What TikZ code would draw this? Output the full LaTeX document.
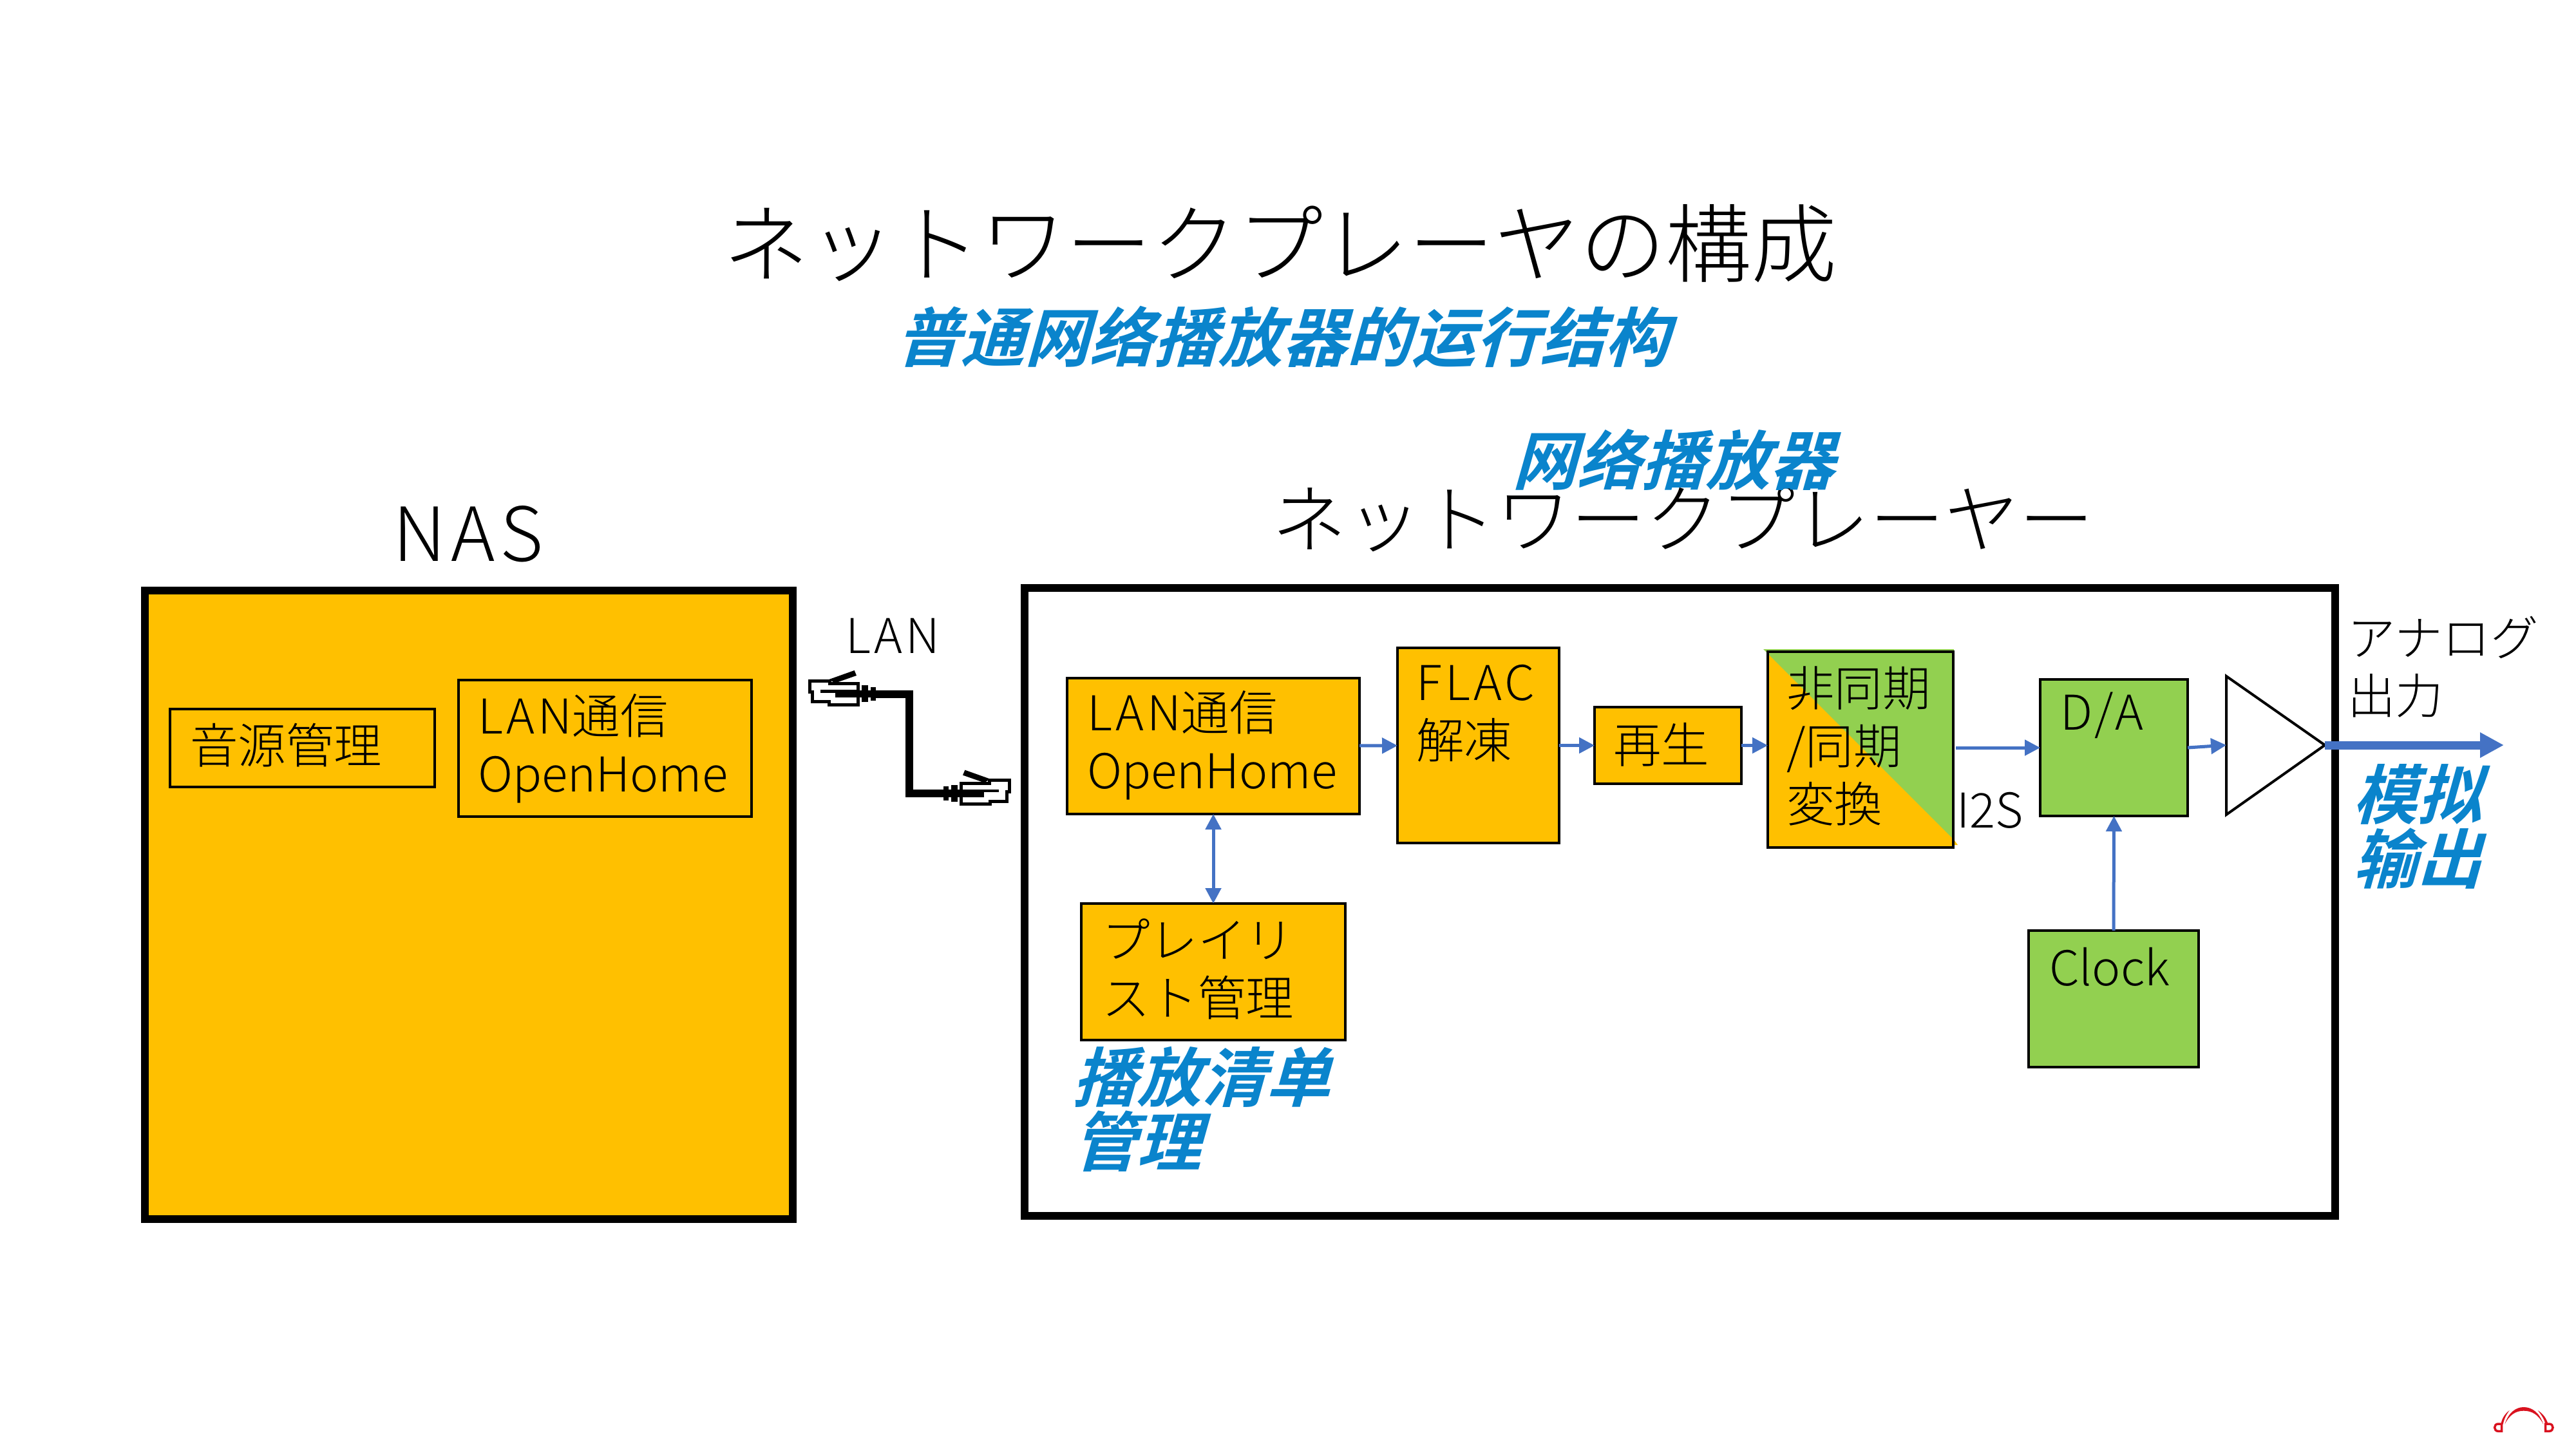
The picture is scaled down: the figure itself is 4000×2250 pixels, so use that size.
\documentclass[tikz,border=0pt]{standalone}
\usepackage{fontspec}
\usetikzlibrary{arrows.meta}
\newfontfamily\jpf{Noto Sans CJK JP Light}
\newfontfamily\jpw[LetterSpace=7]{Noto Sans CJK JP Light}
\newfontfamily\cnf[FakeSlant=0.28]{Noto Sans CJK SC Bold}
\definecolor{orangeF}{HTML}{FFC000}
\definecolor{greenF}{HTML}{92D050}
\definecolor{arrowB}{HTML}{4472C4}
\definecolor{noteB}{HTML}{0A84CC}
\definecolor{logoR}{HTML}{D9121F}
\newcommand{\plugbody}{%
  \fill[black] (415,493) rectangle (443,570);
  \fill[black] (455,500) rectangle (480,565);
  \fill[black] (395,515) rectangle (480,550);
  \draw[black,line width=5pt,fill=white,miter limit=2]
    (172,472)--(265,472)--(265,485)--(398,485)--(398,583)--(262,583)--(262,570)--(185,570)--(185,525)--(172,525)--cycle;
  \fill[black] (222,513) rectangle (400,527);
  \fill[black] (290,520) rectangle (400,550);
  \fill[black] (262,465)--(380,423)--(390,447)--(290,482)--cycle;
}
\tikzset{
  x=1pt,y=-1pt,
  boxn/.style={draw=black,line width=4.5pt,anchor=north west,inner sep=0pt,outer sep=0pt},
  heavy/.style={draw=black,line width=12.5pt,anchor=north west,inner sep=0pt,outer sep=0pt},
  lbl/.style={anchor=west,inner sep=0pt,align=left,text=black,font=\jpf\fontsize{74.5}{90}\selectfont},
  big/.style={inner sep=0pt,text=black,font=\jpf\fontsize{116}{130}\selectfont},
  note/.style={inner sep=0pt,align=left,text=noteB,font=\cnf\fontsize{100}{100}\selectfont},
  flow/.style={draw=arrowB,line width=5pt,-{Triangle[length=24pt,width=24pt]}},
}
\begin{document}
\begin{tikzpicture}
\useasboundingbox (0,0) rectangle (4000,2250);
% outer boxes
\node[heavy,fill=orangeF,minimum width=1006pt,minimum height=976pt] (nas) at (225,917) {};
\node[heavy,fill=white,minimum width=2035pt,minimum height=975pt] (player) at (1591,913) {};
% inner boxes
\node[boxn,minimum width=411pt,minimum height=121pt] (src) at (264,1101) {};
\node[boxn,minimum width=455pt,minimum height=212pt] (lanA) at (712,1056) {};
\node[boxn,fill=orangeF,minimum width=454pt,minimum height=211pt] (lanB) at (1657,1053) {};
\node[boxn,fill=orangeF,minimum width=251pt,minimum height=303pt] (flac) at (2170,1006) {};
\node[boxn,fill=orangeF,minimum width=228pt,minimum height=119pt] (play) at (2476,1098) {};
\node[boxn,fill=orangeF,minimum width=288pt,minimum height=304pt] (sync) at (2745,1012) {};
\fill[greenF] (2738,1008)--(3034,1008)--(3034,1304)--cycle;
\fill[orangeF] (3031,1300)--(3031,1312)--(3040,1312)--cycle;
\node[boxn,minimum width=288pt,minimum height=304pt] at (2745,1012) {};
\node[boxn,fill=greenF,minimum width=229pt,minimum height=212pt] (da) at (3168,1055) {};
\node[boxn,fill=greenF,minimum width=264pt,minimum height=212pt] (clock) at (3150,1445) {};
\node[boxn,fill=orangeF,minimum width=410pt,minimum height=212pt] (pl) at (1679,1403) {};
% amplifier
\coordinate (triW) at (3457,1157);
\coordinate (triE) at (3610,1157);
\coordinate (outE) at (3888,1157);
\draw[black,line width=4pt,fill=white,line join=miter] (3457,1050)--(triE)--(3457,1265)--cycle;
% connectors
\draw[flow] (lanB) -- (flac);
\draw[flow] (flac) -- (play);
\draw[flow] (play) -- (sync.west |- play);
\draw[flow,shorten <=4pt] (sync.east |- da.west) -- (da.west);
\draw[flow] (da.east) -- (triW);
\draw[flow] (clock.north) -- (da.south);
\draw[draw=arrowB,line width=5pt,{Triangle[length=24pt,width=24pt]}-{Triangle[length=24pt,width=24pt]}] (lanB.south) -- (pl.north);
\draw[draw=arrowB,line width=13pt,-{Triangle[length=37pt,width=37pt]}] (triE) -- (outE);
% cable
\coordinate (cabA) at (1360,1078);
\coordinate (cabB) at (1465,1232);
\draw[black,line width=12pt] (cabA) -- (1412,1078) -- (1412,1232) -- (cabB);
\begin{scope}[shift={(1200,900)},xscale=0.3333,yscale=0.3333]\plugbody\end{scope}
\begin{scope}[shift={(1625,1054.67)},xscale=-0.3333,yscale=0.3333]\plugbody\end{scope}
% labels
\node[lbl] (t1) at (295,1157) {音源管理};
\node[lbl] (t2) at (742,1162) {{\jpw LAN}通信\\OpenHome};
\node[lbl] (t3) at (1688,1157) {{\jpw LAN}通信\\OpenHome};
\node[lbl] (t4) at (2199,1108) {{\jpw FLAC}\\解凍};
\node[lbl] (t5) at (2505,1156) {再生};
\node[lbl] (t6) at (2774,1159) {非同期\\/同期\\変換};
\node[lbl] (t7) at (3199,1111) {{\jpw D/A}};
\node[lbl] (t8) at (3038,1258) {I2S};
\node[lbl] (t9) at (3182,1501) {Clock};
\node[lbl] (t10) at (1711,1505) {プレイリ\\スト管理};
\node[lbl] (t11) at (1313,987) {{\jpw LAN}};
\node[lbl] (t12) at (3645,1036) {アナログ\\出力};
\node[big,font=\jpw\fontsize{116}{130}\selectfont] (t13) at (727,829) {NAS};
\node[big,anchor=west] (t14) at (1975,806) {ネットワークプレーヤー};
\node[big,font=\jpf\fontsize{133}{140}\selectfont] (t15) at (1988,378) {ネットワークプレーヤの構成};
\node[note] (n1) at (1991,523) {普通网络播放器的运行结构};
\node[note] (n2) at (2598,714) {网络播放器};
\node[note,anchor=west] (n3) at (1665,1722) {播放清单\\管理};
\node[note,anchor=west] (n4) at (3653,1283) {模拟\\输出};
% logo
\begin{scope}[shift={(3800,2150)},xscale=0.3333,yscale=0.3333,logoR]
\fill (268,185) .. controls (285,130) and (320,105) .. (356,105) .. controls (395,105) and (430,130) .. (448,185) .. controls (425,140) and (395,122) .. (356,122) .. controls (320,122) and (290,140) .. (268,185) --cycle;
\fill (250,185) .. controls (255,155) and (270,135) .. (290,120) .. controls (275,140) and (265,160) .. (260,185) --cycle;
\fill (470,185) .. controls (462,155) and (445,135) .. (422,120) .. controls (438,140) and (452,160) .. (458,185) --cycle;
\draw[line width=3.5pt] (254,183) -- (238,183) .. controls (215,183) and (215,217) .. (238,217) -- (254,217) -- cycle;
\draw[line width=3.5pt] (458,183) -- (475,183) .. controls (498,183) and (498,217) .. (475,217) -- (458,217) -- cycle;
\end{scope}
\end{tikzpicture}
\end{document}
